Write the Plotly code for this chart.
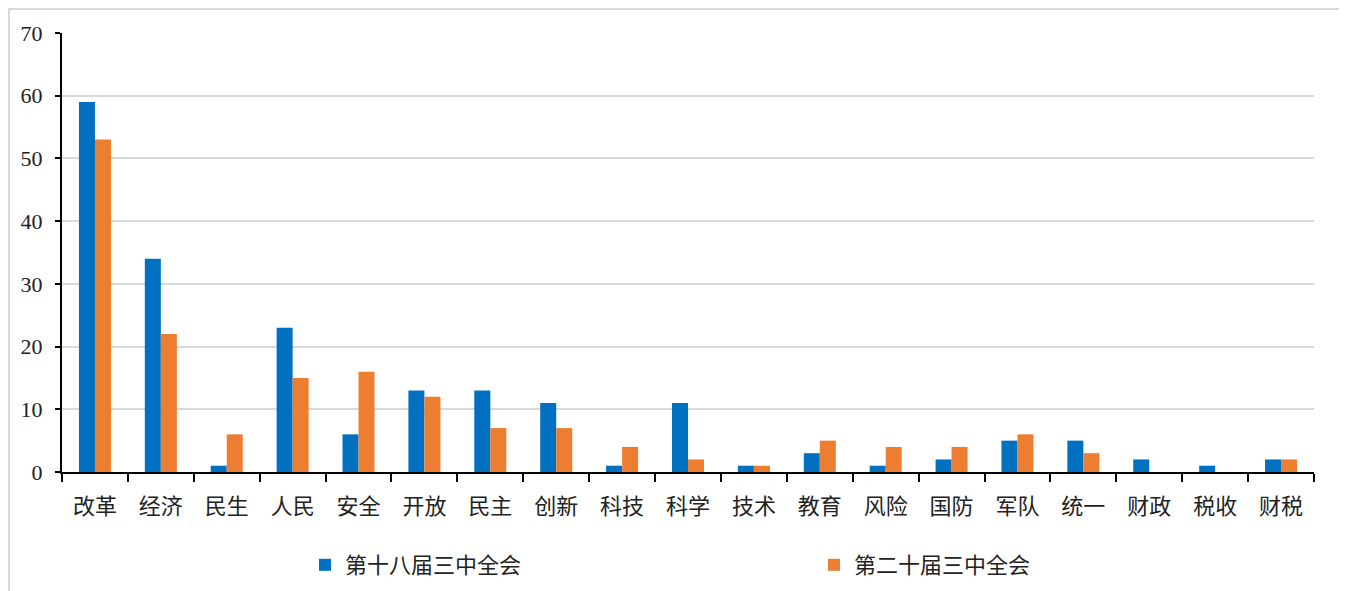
import plotly.graph_objects as go

categories = ["改革", "经济", "民生", "人民", "安全", "开放", "民主", "创新", "科技", "科学",
              "技术", "教育", "风险", "国防", "军队", "统一", "财政", "税收", "财税"]
series18 = [59, 34, 1, 23, 6, 13, 13, 11, 1, 11, 1, 3, 1, 2, 5, 5, 2, 1, 2]
series20 = [53, 22, 6, 15, 16, 12, 7, 7, 4, 2, 1, 5, 4, 4, 6, 3, 0, 0, 2]
name18 = "第十八届三中全会"
name20 = "第二十届三中全会"
y_ticks = [0, 10, 20, 30, 40, 50, 60, 70]

# page body has an 8px margin; the figure is sized to fit the 1347x591 window
OFF = 8
W, H = 1347 - OFF, 591 - OFF
# plot area in page pixels: x 62..1314, y 33..472
ml = 62 - OFF
mt = 33 - OFF
mr = W - (1314 - OFF)
mb = H - (472 - OFF)
pw, ph = W - ml - mr, H - mt - mb

cjk = "Noto Sans CJK SC"
serif = "Liberation Serif, Times New Roman, serif"

fig = go.Figure()
fig.add_trace(go.Bar(x=categories, y=series18, name=name18, marker_color="#0070C0",
                     marker_line_width=0, legend="legend"))
fig.add_trace(go.Bar(x=categories, y=series20, name=name20, marker_color="#ED7D31",
                     marker_line_width=0, legend="legend2"))

def px_x(p):  # page pixel -> paper x
    return (p - OFF - ml) / pw

def px_y(p):  # page pixel -> paper y
    return (H - mb - (p - OFF)) / ph

fig.add_shape(type="rect", xref="paper", yref="paper",
              x0=px_x(OFF + 1), x1=px_x(1341), y0=px_y(610), y1=px_y(OFF + 1),
              line=dict(color="#D9D9D9", width=2), fillcolor="rgba(0,0,0,0)", layer="below")

leg_common = dict(orientation="h", xanchor="left", yanchor="middle",
                  font=dict(family=cjk, size=22, color="#222222"),
                  bgcolor="rgba(0,0,0,0)", itemwidth=30)

fig.update_layout(
    width=W, height=H,
    margin=dict(l=ml, r=mr, t=mt, b=mb, pad=0, autoexpand=False),
    paper_bgcolor="white", plot_bgcolor="white",
    barmode="group", bargap=0.514, bargroupgap=0,
    showlegend=True,
    legend=dict(x=px_x(305), y=px_y(565), **leg_common),
    legend2=dict(x=px_x(814), y=px_y(565), **leg_common),
    xaxis=dict(showline=True, linecolor="black", linewidth=2,
               ticks="outside", tickson="boundaries", ticklen=8, tickwidth=2, tickcolor="black",
               tickfont=dict(family=cjk, size=22, color="#222222"),
               ticklabelstandoff=14, showgrid=False, fixedrange=True),
    yaxis=dict(range=[0, 70], tickvals=y_ticks, showline=True, linecolor="black", linewidth=2,
               ticks="outside", ticklen=5, tickwidth=2, tickcolor="black",
               tickfont=dict(family=serif, size=22, color="#222222"),
               showgrid=True, gridcolor="#D9D9D9", gridwidth=2, zeroline=False,
               ticklabelstandoff=8, fixedrange=True),
)

fig.write_html("out.html")
